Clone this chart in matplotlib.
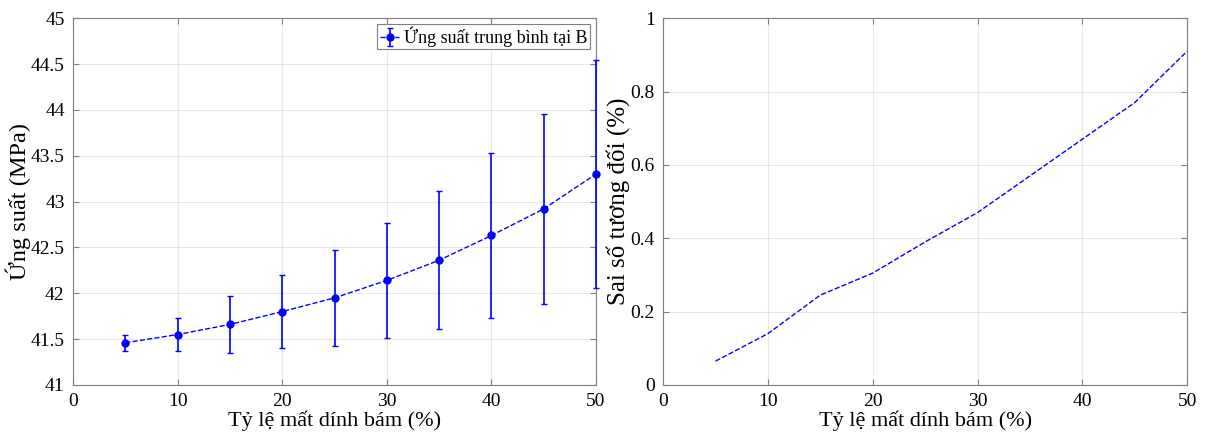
import matplotlib.pyplot as plt
import numpy as np

plt.rcParams['font.family'] = ['Liberation Serif', 'DejaVu Serif']

# Dados
ty_le = [5, 10, 15, 20, 25, 30, 35, 40, 45, 50]
ung_suat = [41.46, 41.55, 41.66, 41.80, 41.95, 42.14, 42.36, 42.63, 42.92, 43.30]
sai_lech = [0.085, 0.18, 0.315, 0.40, 0.52, 0.625, 0.755, 0.905, 1.04, 1.245]
sai_so = [0.065, 0.14, 0.245, 0.305, 0.39, 0.47, 0.57, 0.67, 0.77, 0.91]

fig = plt.figure(figsize=(12.05, 4.43), dpi=100)
ax1 = fig.add_axes([0.0606, 0.131, 0.434, 0.828])
ax2 = fig.add_axes([0.5503, 0.131, 0.4349, 0.828])

def style(ax):
    ax.grid(True, color='#262626', alpha=0.1, linewidth=0.8)
    ax.set_axisbelow(True)
    for s in ax.spines.values():
        s.set_color('#7f7f7f')
        s.set_linewidth(0.8)
    ax.tick_params(direction='in', top=True, right=True, labelsize=14,
                   color='#7f7f7f', length=4, pad=6)

eb = ax1.errorbar(ty_le, ung_suat, yerr=sai_lech, fmt='--o', color='blue',
                  markersize=5, capsize=2.5, elinewidth=1.2, linewidth=1,
                  label='Ứng suất trung bình tại B', zorder=3)
for artist in eb.lines[1] + eb.lines[2] + (eb.lines[0],):
    artist.set_clip_on(False)
ax1.set_xlim(0, 50)
ax1.set_ylim(41, 45)
ax1.set_xticks(np.arange(0, 51, 10))
ax1.set_yticks(np.arange(41, 45.01, 0.5))
ax1.set_yticklabels(['41', '41.5', '42', '42.5', '43', '43.5', '44', '44.5', '45'])
ax1.set_xlabel('Tỷ lệ mất dính bám (%)', fontsize=16, labelpad=0)
ax1.set_ylabel('Ứng suất (MPa)', fontsize=17.5, labelpad=0)
style(ax1)
leg = ax1.legend(loc='upper right', fontsize=13, fancybox=False, framealpha=1,
                 edgecolor='#7f7f7f', handlelength=1.1, borderaxespad=0.35,
                 borderpad=0.12, handletextpad=0.25)
leg.get_frame().set_linewidth(0.8)
leg.set_zorder(5)

ax2.plot(ty_le, sai_so, '--', color='blue', linewidth=1)
ax2.set_xlim(0, 50)
ax2.set_ylim(0, 1)
ax2.set_xticks(np.arange(0, 51, 10))
ax2.set_yticks([0, 0.2, 0.4, 0.6, 0.8, 1])
ax2.set_yticklabels(['0', '0.2', '0.4', '0.6', '0.8', '1'])
ax2.set_xlabel('Tỷ lệ mất dính bám (%)', fontsize=16, labelpad=0)
ax2.set_ylabel('Sai số tương đối (%)', fontsize=18, labelpad=0)
style(ax2)

fig.savefig('out.png', dpi=100)
